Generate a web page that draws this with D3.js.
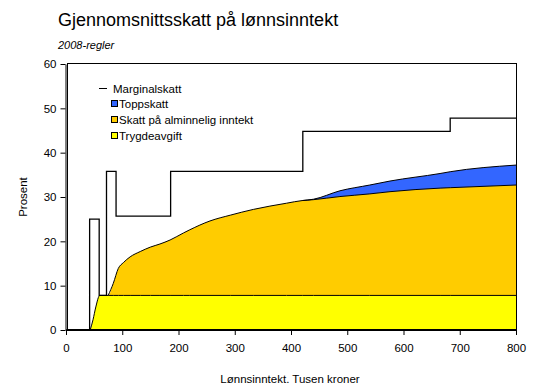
<!DOCTYPE html>
<html>
<head>
<meta charset="utf-8">
<script src="https://cdn.jsdelivr.net/npm/d3@7"></script>
<style>
  body { margin: 0; background: #fff; }
  svg { display: block; font-family: Arial, "Liberation Sans", sans-serif; }
</style>
</head>
<body>
<svg id="chart" width="545" height="391"></svg>
<script>
// income in thousand NOK, average tax in percent (stacked components)
const income = [0, 43, 48, 53, 60, 75, 84, 93, 102, 114, 132, 150, 167, 185, 209, 220, 256, 292, 333, 392, 420, 440, 487, 540, 576, 665, 683, 800];
const trygdeavgift = [0, 0, 2.3, 5.2, 7.8, 7.8, 7.8, 7.8, 7.8, 7.8, 7.8, 7.8, 7.8, 7.8, 7.8, 7.8, 7.8, 7.8, 7.8, 7.8, 7.8, 7.8, 7.8, 7.8, 7.8, 7.8, 7.8, 7.8];
const alminnelig = [0, 0, 0, 0, 0, 0, 2.7, 6.1, 7.4, 8.7, 9.9, 10.9, 11.6, 12.5, 14.1, 14.8, 16.8, 18.1, 19.4, 20.8, 21.4, 21.6, 22.3, 22.9, 23.4, 24.2, 24.3, 24.9];
const toppskatt = [0, 0, 0, 0, 0, 0, 0, 0, 0, 0, 0, 0, 0, 0, 0, 0, 0, 0, 0, 0, 0, 0.1, 1.3, 2.0, 2.4, 3.3, 3.6, 4.5];

// marginal tax steps: rate applies from breakpoint to the next one
const marginalFrom = [0, 42, 59, 72, 89, 186, 421, 683, 800];
const marginalRate = [0, 25, 7.8, 35.8, 25.7, 35.8, 44.8, 47.8, 47.8];

const xTicks = [0, 100, 200, 300, 400, 500, 600, 700, 800];
const yTicks = [0, 10, 20, 30, 40, 50, 60];

const seriesNames = ['Trygdeavgift', 'Skatt på alminnelig inntekt', 'Toppskatt'];
const seriesColors = ['#ffff00', '#ffcc00', '#3366ff'];

const svg = d3.select('#chart');
const plotLeft = 66, plotRight = 516, plotTop = 64, plotBottom = 330;

const x = d3.scaleLinear().domain([0, 800]).range([plotLeft, plotRight]);
const y = d3.scaleLinear().domain([0, 60]).range([plotBottom, plotTop]);

const rows = income.map((inc, i) => ({
  income: inc,
  Trygdeavgift: trygdeavgift[i],
  'Skatt på alminnelig inntekt': alminnelig[i],
  Toppskatt: toppskatt[i],
}));
const stacked = d3.stack().keys(seriesNames)(rows);

const area = d3.area()
  .x((d) => x(d.data.income))
  .y0((d) => y(d[0]))
  .y1((d) => y(d[1]))
  .curve(d3.curveMonotoneX);

const topLine = d3.line()
  .x((d) => x(d.data.income))
  .y((d) => y(d[1]))
  .curve(d3.curveMonotoneX);

stacked.forEach((layer, i) => {
  svg.append('path')
    .attr('d', area(layer))
    .attr('fill', seriesColors[i]);
});
stacked.forEach((layer) => {
  // only outline where the layer has some thickness
  const pts = layer.filter((d, i) => d[1] - d[0] > 0 || (layer[i + 1] && layer[i + 1][1] - layer[i + 1][0] > 0));
  svg.append('path')
    .attr('d', topLine(pts))
    .attr('fill', 'none')
    .attr('stroke', '#000')
    .attr('stroke-width', 1);
});

// plot border
svg.append('rect')
  .attr('x', plotLeft + 1.5).attr('y', plotTop - 0.5)
  .attr('width', plotRight - plotLeft - 1).attr('height', plotBottom - plotTop)
  .attr('fill', 'none')
  .attr('stroke', '#000');

// marginal tax line
const marginalPts = marginalFrom.map((v, i) => [v, marginalRate[i]]);
svg.append('path')
  .attr('d', d3.line()
    .x((d) => x(d[0]))
    .y((d) => y(d[1]))
    .curve(d3.curveStepAfter)(marginalPts))
  .attr('fill', 'none')
  .attr('stroke', '#000')
  .attr('stroke-width', 1.3);

// axes
const xAxis = svg.append('g')
  .attr('transform', `translate(0,${plotBottom})`)
  .call(d3.axisBottom(x).tickValues(xTicks).tickSize(5).tickPadding(9).tickSizeOuter(0));
const yAxis = svg.append('g')
  .attr('transform', `translate(${plotLeft - 0.5},0)`)
  .call(d3.axisLeft(y).tickValues(yTicks).tickSize(5).tickPadding(4).tickSizeOuter(0));
[xAxis, yAxis].forEach((g) => {
  g.selectAll('path, line').attr('stroke', '#000');
  g.selectAll('text')
    .attr('fill', '#000')
    .style('font-size', '11.5px')
    .style('font-family', 'Arial, "Liberation Sans", sans-serif');
});

// titles
svg.append('text')
  .attr('x', 58).attr('y', 26)
  .style('font-size', '18px')
  .text('Gjennomsnittsskatt på lønnsinntekt');
svg.append('text')
  .attr('x', 58).attr('y', 49)
  .style('font-size', '11px')
  .style('font-style', 'italic')
  .text('2008-regler');
svg.append('text')
  .attr('x', 290).attr('y', 383)
  .attr('text-anchor', 'middle')
  .style('font-size', '11.5px')
  .text('Lønnsinntekt. Tusen kroner');
svg.append('text')
  .attr('transform', 'translate(27,197) rotate(-90)')
  .attr('text-anchor', 'middle')
  .style('font-size', '11.5px')
  .text('Prosent');

// legend
const legend = svg.append('g');
legend.append('line')
  .attr('x1', 99).attr('x2', 107)
  .attr('y1', 88.5).attr('y2', 88.5)
  .attr('stroke', '#000');
legend.append('text')
  .attr('x', 113).attr('y', 92.5)
  .style('font-size', '11.5px')
  .text('Marginalskatt');
const legendItems = ['Toppskatt', 'Skatt på alminnelig inntekt', 'Trygdeavgift'];
const legendColors = ['#3366ff', '#ffcc00', '#ffff00'];
legendItems.forEach((name, i) => {
  const cy = 104 + i * 16;
  legend.append('rect')
    .attr('x', 111.5).attr('y', cy - 3.5)
    .attr('width', 6).attr('height', 6)
    .attr('fill', legendColors[i])
    .attr('stroke', '#000');
  legend.append('text')
    .attr('x', 119).attr('y', cy + 4)
    .style('font-size', '11.5px')
    .text(name);
});
</script>
</body>
</html>
